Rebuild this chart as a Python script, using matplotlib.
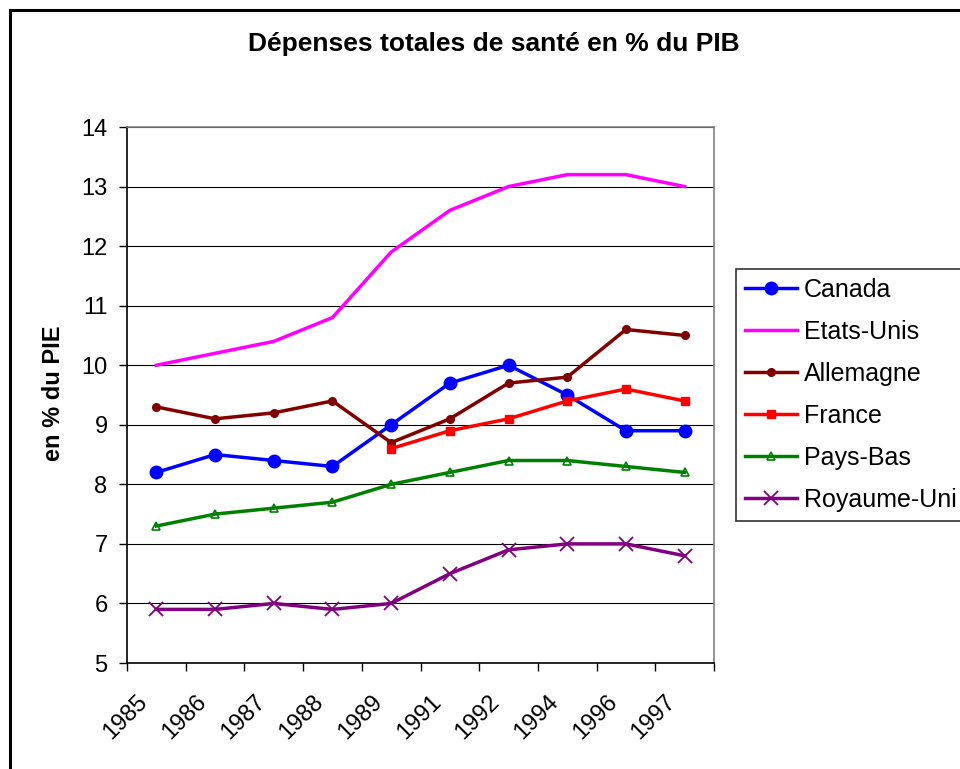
import numpy as np
import matplotlib
matplotlib.use("Agg")
import matplotlib.pyplot as plt
from matplotlib.patches import Rectangle
from matplotlib.transforms import ScaledTranslation

years = ["1985", "1986", "1987", "1988", "1989", "1991", "1992", "1994", "1996", "1997"]
canada = [8.2, 8.5, 8.4, 8.3, 9.0, 9.7, 10.0, 9.5, 8.9, 8.9]
etats_unis = [10.0, 10.2, 10.4, 10.8, 11.9, 12.6, 13.0, 13.2, 13.2, 13.0]
allemagne = [9.3, 9.1, 9.2, 9.4, 8.7, 9.1, 9.7, 9.8, 10.6, 10.5]
france = [np.nan, np.nan, np.nan, np.nan, 8.6, 8.9, 9.1, 9.4, 9.6, 9.4]
pays_bas = [7.3, 7.5, 7.6, 7.7, 8.0, 8.2, 8.4, 8.4, 8.3, 8.2]
royaume_uni = [5.9, 5.9, 6.0, 5.9, 6.0, 6.5, 6.9, 7.0, 7.0, 6.8]

plt.rcParams['font.family'] = ['Liberation Sans', 'DejaVu Sans']

W, H = 960, 769
fig = plt.figure(figsize=(W / 100, H / 100), dpi=100)
ax = fig.add_axes([127 / W, 1 - 663 / H, (714 - 127) / W, (663 - 127) / H])

x = np.arange(len(years))
lw = 2.5
ax.plot(x, canada, color='#0000FF', lw=lw, marker='o', ms=9, label='Canada', zorder=5)
ax.plot(x, etats_unis, color='#FF00FF', lw=lw, label='Etats-Unis', zorder=4)
ax.plot(x, allemagne, color='#800000', lw=lw, marker='o', ms=5.5, label='Allemagne', zorder=5)
ax.plot(x, france, color='#FF0000', lw=lw, marker='s', ms=5.5, label='France', zorder=5)
ax.plot(x, pays_bas, color='#008000', lw=lw, marker='^', ms=6, mfc='none', mew=1.2, label='Pays-Bas', zorder=5)
ax.plot(x, royaume_uni, color='#800080', lw=lw, marker='x', ms=10, mew=1.3, label='Royaume-Uni', zorder=5)

ax.set_xlim(-0.5, len(years) - 0.5)
ax.set_ylim(5, 14)
ax.set_yticks(range(5, 15))
ax.tick_params(axis='y', labelsize=17, length=6, pad=8, direction='out', width=1)
ax.yaxis.grid(True, color='#000000', lw=0.8)
ax.set_axisbelow(True)

ax.set_xticks(x)
ax.set_xticklabels(years, rotation=45, ha='right', va='center', rotation_mode='anchor', fontsize=17)
ax.set_xticks(np.arange(-0.5, len(years)), minor=True)
ax.tick_params(axis='x', which='major', length=0, pad=33)
ax.tick_params(axis='x', which='minor', length=6, width=1, direction='out')
shift = ScaledTranslation(-12 / 100, 10 / 100, fig.dpi_scale_trans)
for lbl in ax.get_xticklabels():
    lbl.set_transform(lbl.get_transform() + shift)

for s in ['top', 'right']:
    ax.spines[s].set_color('#808080')
    ax.spines[s].set_linewidth(1.2)
for s in ['left', 'bottom']:
    ax.spines[s].set_color('#000000')
    ax.spines[s].set_linewidth(1.2)

fig.text(54 / W, 1 - 393 / H, 'en % du PIE', rotation=90, ha='center', va='center',
         fontsize=17, fontweight='bold')

fig.text(494 / W, 1 - 44 / H, 'Dépenses totales de santé en % du PIB', ha='center', va='center',
         fontsize=19, fontweight='bold')

leg = ax.legend(loc='upper left', bbox_to_anchor=(736 / W, 1 - 269 / H), bbox_transform=fig.transFigure,
                fontsize=18, frameon=True, fancybox=False, edgecolor='#000000', borderpad=0.35,
                labelspacing=0.72, handlelength=2.1, handletextpad=0.25, borderaxespad=0)
leg.get_frame().set_linewidth(1.2)

fig.patches.append(Rectangle((10 / W, -0.05), 1.2, 1.05 - 10 / H, transform=fig.transFigure,
                             fill=False, edgecolor='black', lw=2.2))

fig.savefig('out.png', dpi=100)
